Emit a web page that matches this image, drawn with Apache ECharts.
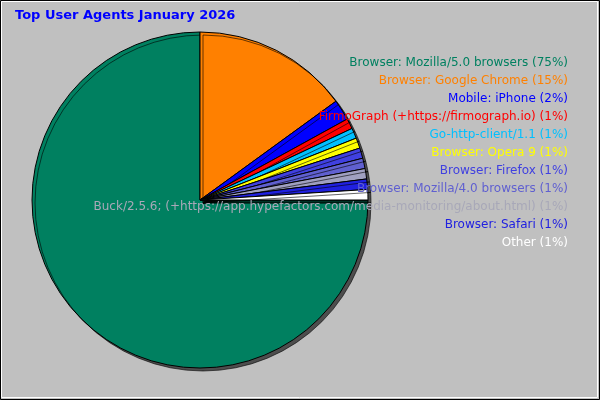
<!DOCTYPE html><html><head><meta charset="utf-8">
<script src="https://cdn.jsdelivr.net/npm/echarts@6/dist/echarts.min.js"></script>
<style>html,body{margin:0;padding:0;background:#c0c0c0}#c{width:600px;height:400px}</style></head><body><div id="c"></div>
<script>
const names=["Browser: Mozilla/5.0 browsers","Browser: Google Chrome","Mobile: iPhone","FirmoGraph (+https://firmograph.io)","Go-http-client/1.1","Browser: Opera 9","Browser: Firefox","Browser: Mozilla/4.0 browsers","Buck/2.5.6; (+https://app.hypefactors.com/media-monitoring/about.html)","Browser: Safari","Other"];
const values=[75,15,2,1,1,1,1,1,1,1,1];
const colors=["#008060","#ff8000","#0000ff","#ff0000","#00c0ff","#ffff00","#4040e0","#6060d0","#a0a0c0","#2020e0","#ffffff"];
const textColors=["#008060","#ff8000","#0000ff","#ff0000","#00c0ff","#ffff00","#4040e0","#6060d0","#a8a8b8","#2020e0","#ffffff"];
const chart=echarts.init(document.getElementById('c'));
const g=[
 {type:'rect',shape:{x:0.5,y:0.5,width:599,height:399},style:{fill:'none',stroke:'#000',lineWidth:1}},
 {type:'rect',shape:{x:1.5,y:1.5,width:596,height:396},style:{fill:'none',stroke:'#fff',lineWidth:1}}
];
names.forEach((n,i)=>{
 g.push({type:'text',x:568,y:63+i*18,style:{text:n+' ('+values[i]+'%)',fill:textColors[i],font:'12px "DejaVu Sans"',align:'right',verticalAlign:'middle',textShadowColor:'#505050',textShadowOffsetX:1,textShadowOffsetY:1,textShadowBlur:0},z:10});
});
chart.setOption({
 backgroundColor:'#c0c0c0',animation:false,
 title:{text:'Top User Agents January 2026',left:10,top:4,textStyle:{color:'#0000ff',fontSize:13,fontWeight:'bold',fontFamily:'DejaVu Sans'}},
 graphic:g,
 series:[{type:'pie',center:[200,200],radius:[0,168],startAngle:0,clockwise:true,label:{show:false},labelLine:{show:false},
  itemStyle:{borderColor:'#000',borderWidth:1,shadowColor:'rgba(0,0,0,0.6)',shadowOffsetX:3,shadowOffsetY:3,shadowBlur:0},
  data:names.map((n,i)=>({name:n,value:values[i],itemStyle:{color:colors[i]}}))}]
});
</script></body></html>
